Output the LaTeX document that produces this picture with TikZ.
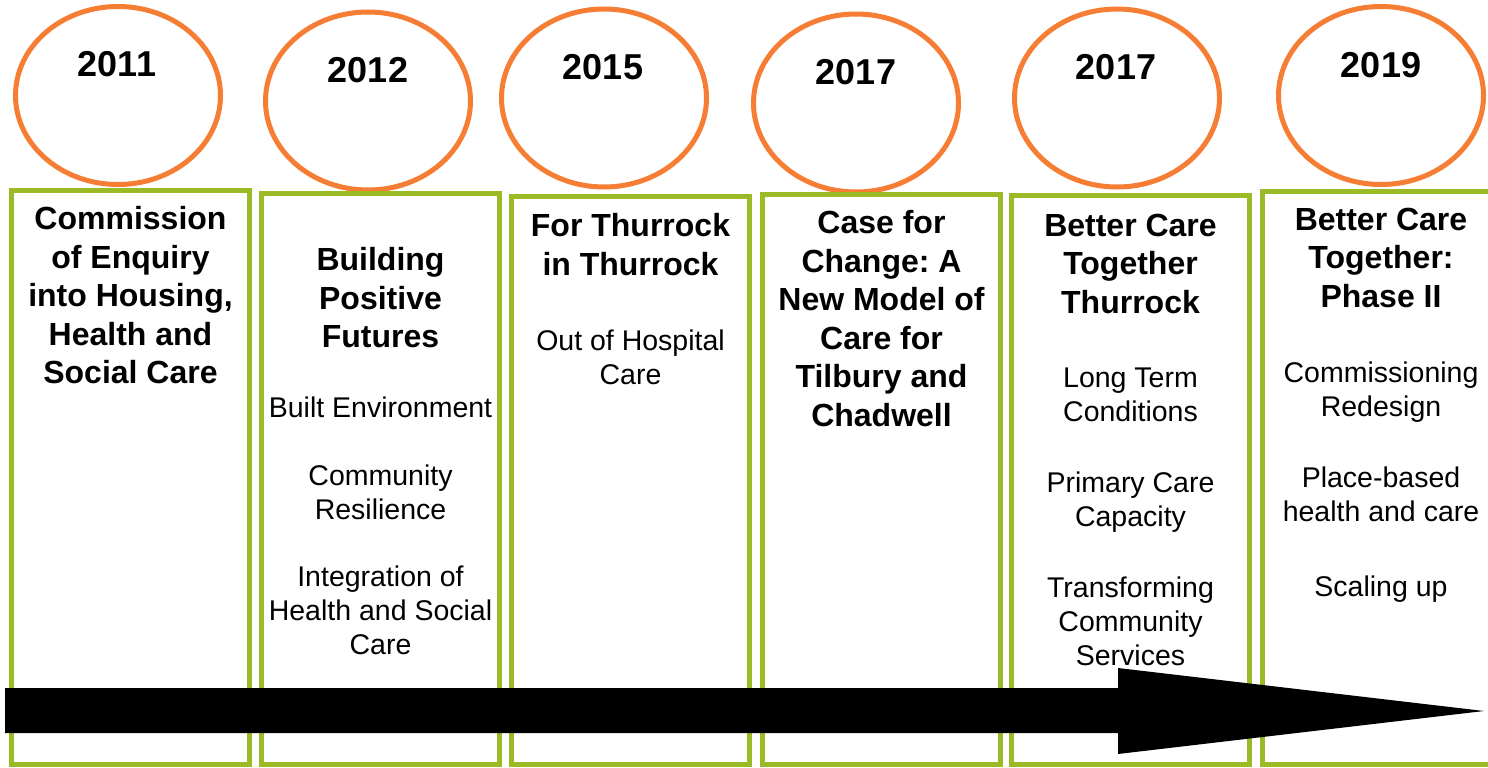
\documentclass[tikz,border=0pt]{standalone}
\usepackage{fontspec}
\setmainfont{Liberation Sans}
\usetikzlibrary{shapes.geometric}
\definecolor{ringorange}{RGB}{246,125,52}
\definecolor{boxgreen}{RGB}{155,187,38}
\frenchspacing
\begin{document}
\begin{tikzpicture}[x=1pt,y=-1pt,
  ring/.style={draw=ringorange, line width=5pt, ellipse, minimum width=205pt, minimum height=178pt, inner sep=0pt},
  yeartext/.style={font=\fontsize{36}{40}\selectfont\bfseries, inner sep=0pt},
  stagebox/.style={draw=boxgreen, line width=5pt, minimum width=238pt, minimum height=573.5pt, anchor=north west, inner sep=0pt, outer sep=0pt},
  titletext/.style={font=\fontsize{32}{38.5}\selectfont\bfseries, align=center, anchor=north, inner sep=0pt, execute at begin node=\strut},
  itemtext/.style={font=\fontsize{28.5}{33.8}\selectfont, align=center, anchor=north, inner sep=0pt, execute at begin node=\strut},
  timearrow/.style={fill=black}]
\clip (0,0) rectangle (1488,768);
\fill[white] (0,0) rectangle (1488,768);

% year rings
\node[ring] (r1) at (118,95.5) {};
\node[ring] (r2) at (368,101) {};
\node[ring] (r3) at (604,98) {};
\node[ring] (r4) at (856,103) {};
\node[ring] (r5) at (1117,98) {};
\node[ring] (r6) at (1381,95.5) {};
\node[yeartext] (y1) at (117,64.5) {2011};
\node[yeartext] (y2) at (368,70.5) {2012};
\node[yeartext] (y3) at (603,67) {2015};
\node[yeartext] (y4) at (856,72) {2017};
\node[yeartext] (y5) at (1116,67) {2017};
\node[yeartext] (y6) at (1381,65) {2019};

% stage boxes
\node[stagebox] (b1) at (11.5,190.5) {};
\node[stagebox, minimum height=570.5pt] (b2) at (261.5,193.5) {};
\node[stagebox, minimum height=567.5pt] (b3) at (511.5,196.5) {};
\node[stagebox, minimum height=569.5pt] (b4) at (762.5,194.5) {};
\node[stagebox, minimum height=568.5pt] (b5) at (1011.5,195.5) {};
\node[stagebox, minimum height=572.5pt] (b6) at (1262.5,191.5) {};

% titles
\node[titletext] (t1) at (130.5,206.5) {Commission\\of Enquiry\\into Housing,\\Health and\\Social Care};
\node[titletext] (t2) at (380.5,247.5) {Building\\Positive\\Futures};
\node[titletext] (t3) at (630.5,213.5) {For Thurrock\\in Thurrock};
\node[titletext] (t4) at (881.5,210.5) {Case for\\Change: A\\New Model of\\Care for\\Tilbury and\\Chadwell};
\node[titletext] (t5) at (1130.5,213.5) {Better Care\\Together\\Thurrock};
\node[titletext] (t6) at (1381,207.5) {Better Care\\Together:\\Phase II};

% items
\node[itemtext] (i21) at (380.5,394) {Built Environment};
\node[itemtext] (i22) at (380.5,465) {Community\\Resilience};
\node[itemtext] (i23) at (380.5,566) {Integration of\\Health and Social\\Care};
\node[itemtext] (i31) at (630.5,330) {Out of Hospital\\Care};
\node[itemtext] (i51) at (1130.5,367.5) {Long Term\\Conditions};
\node[itemtext] (i52) at (1130.5,472) {Primary Care\\Capacity};
\node[itemtext] (i53) at (1130.5,577) {Transforming\\Community\\Services};
\node[itemtext] (i61) at (1381,362) {Commissioning\\Redesign};
\node[itemtext] (i62) at (1381,467) {Place-based\\health and care};
\node[itemtext] (i63) at (1381,573) {Scaling up};

% time arrow
\coordinate (atail) at (5,710.5);
\coordinate (atip) at (1484,711);
\fill[timearrow] (5,688) -- (1118,688) -- (1118,668) -- (atip) -- (1118,754) -- (1118,733) -- (5,733) -- cycle;
\end{tikzpicture}
\end{document}
